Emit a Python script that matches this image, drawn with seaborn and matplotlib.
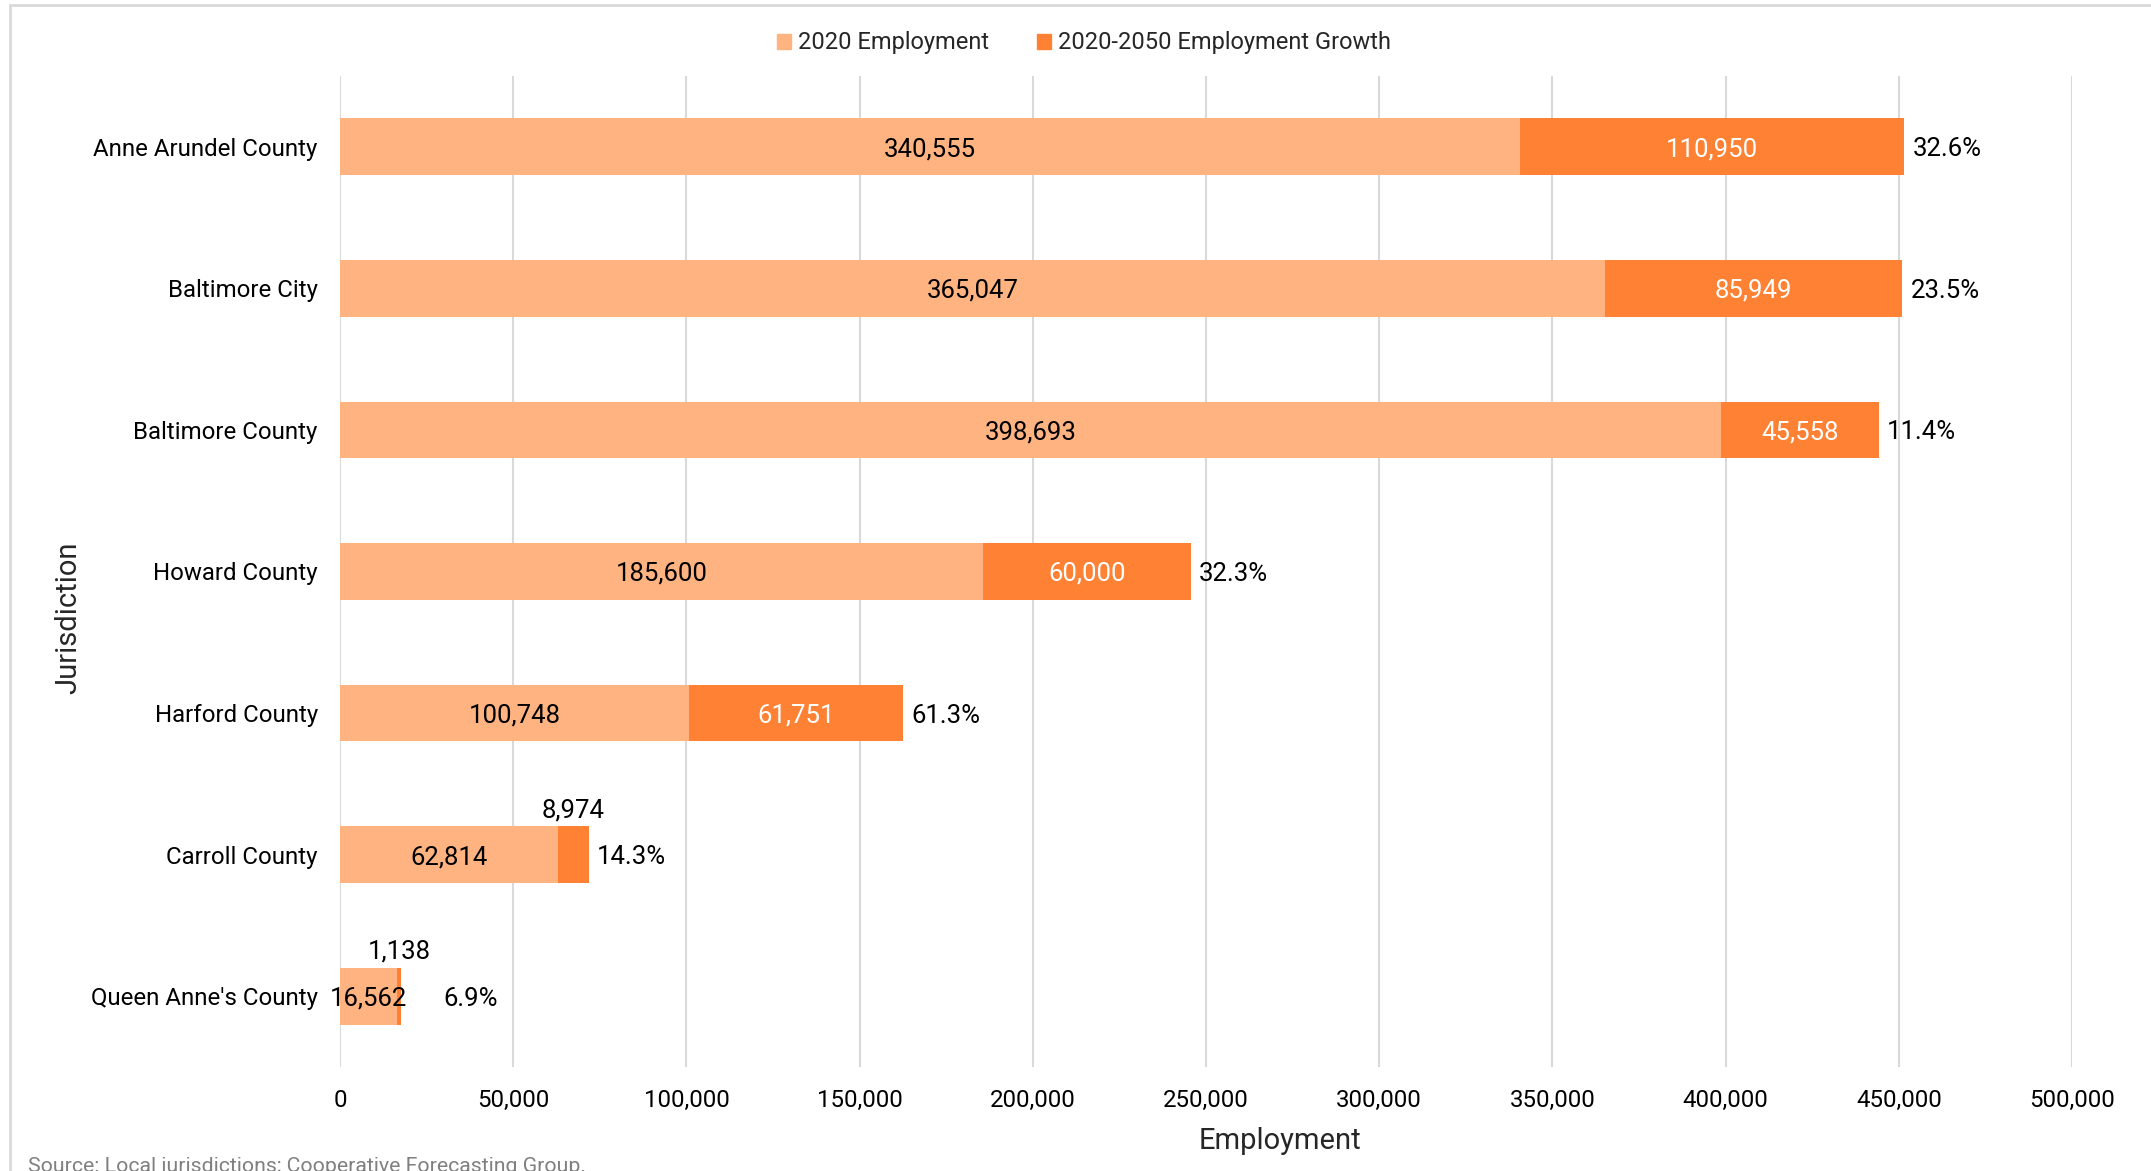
import pandas as pd
import matplotlib.pyplot as plt
import seaborn as sns
from matplotlib.patches import Patch, Rectangle
from matplotlib.ticker import FuncFormatter

# values
jurisdictions = ["Anne Arundel County", "Baltimore City", "Baltimore County",
                 "Howard County", "Harford County", "Carroll County",
                 "Queen Anne's County"]
employment_2020 = [340555, 365047, 398693, 185600, 100748, 62814, 16562]
growth_2020_2050 = [110950, 85949, 45558, 60000, 61751, 8974, 1138]
x_ticks = [0, 50000, 100000, 150000, 200000, 250000, 300000, 350000, 400000, 450000, 500000]

LIGHT = "#FFB381"
DARK = "#FF8133"
GRID = "#D9D9D9"

def plot_employment():
    df = pd.DataFrame({
        "Jurisdiction": jurisdictions,
        "Base": employment_2020,
        "Growth": growth_2020_2050,
    })
    df["Total"] = df["Base"] + df["Growth"]
    df["Pct"] = df["Growth"] / df["Base"] * 100

    sns.set_style("white")
    plt.rcParams["font.family"] = ["Roboto", "DejaVu Sans"]

    fig = plt.figure(figsize=(21.51, 11.71), dpi=100)
    ax = fig.add_axes([340 / 2151, 1 - 1067 / 1171, 1732 / 2151, 991 / 1171])

    # total bar underneath, 2020 bar on top -> stacked look
    sns.barplot(data=df, y="Jurisdiction", x="Total", color=DARK, width=0.4,
                saturation=1, orient="h", ax=ax, linewidth=0)
    sns.barplot(data=df, y="Jurisdiction", x="Base", color=LIGHT, width=0.4,
                saturation=1, orient="h", ax=ax, linewidth=0)

    ax.set_xlim(0, 500000)
    ax.set_ylim(6.5, -0.5)
    ax.set_xticks(x_ticks)
    ax.xaxis.set_major_formatter(FuncFormatter(lambda v, p: f"{int(v):,}"))
    ax.grid(axis="x", color=GRID, linewidth=1.5)
    ax.set_axisbelow(True)
    for s in ax.spines.values():
        s.set_visible(False)
    ax.tick_params(axis="both", length=0, labelsize=17.3, pad=16, colors="#000000")

    # data labels
    for i, row in df.iterrows():
        ax.text(row["Base"] / 2, i, f"{row['Base']:,}", ha="center",
                va="center_baseline", fontsize=18.5, color="#000000")
        mid = row["Base"] + row["Growth"] / 2
        if row["Growth"] > 20000:
            ax.text(mid, i, f"{row['Growth']:,}", ha="center",
                    va="center_baseline", fontsize=18.5, color="white")
        else:
            ax.annotate(f"{row['Growth']:,}", (mid, i - 0.2), xytext=(0, 3),
                        textcoords="offset points", ha="center", va="bottom",
                        fontsize=18.5, color="#000000")
        ax.annotate(f"{row['Pct']:.1f}%", (max(row["Total"], 27500), i),
                    xytext=(6, 0), textcoords="offset points", ha="left",
                    va="center_baseline", fontsize=18.5, color="#000000")

    ax.set_xlabel("Employment", fontsize=21)
    ax.set_ylabel("Jurisdiction", fontsize=21)
    ax.xaxis.set_label_coords((1280 - 340) / 1732, (1067 - 1127) / 991)
    ax.yaxis.set_label_coords((82 - 340) / 1732, (1067 - 618) / 991)

    handles = [Patch(color=LIGHT, label="2020 Employment"),
               Patch(color=DARK, label="2020-2050 Employment Growth")]
    fig.legend(handles=handles, loc="center", ncol=2, frameon=False,
               bbox_to_anchor=(1084 / 2151, 1 - 43 / 1171), fontsize=17,
               handlelength=0.6, handleheight=0.6, handletextpad=0.3,
               columnspacing=2.0)

    fig.text(28 / 2151, 1 - 1167 / 1171,
             "Source: Local jurisdictions; Cooperative Forecasting Group.",
             fontsize=15.3, color="#808080", ha="left", va="center")

    # light frame on top and left edge
    fig.patches.append(Rectangle((10 / 2151, -0.1), 1.2, 1.1 - 5 / 1171,
                                 transform=fig.transFigure, fill=False,
                                 edgecolor=GRID, linewidth=2))

    fig.savefig("out.png", dpi=100)

if __name__ == "__main__":
    plot_employment()
